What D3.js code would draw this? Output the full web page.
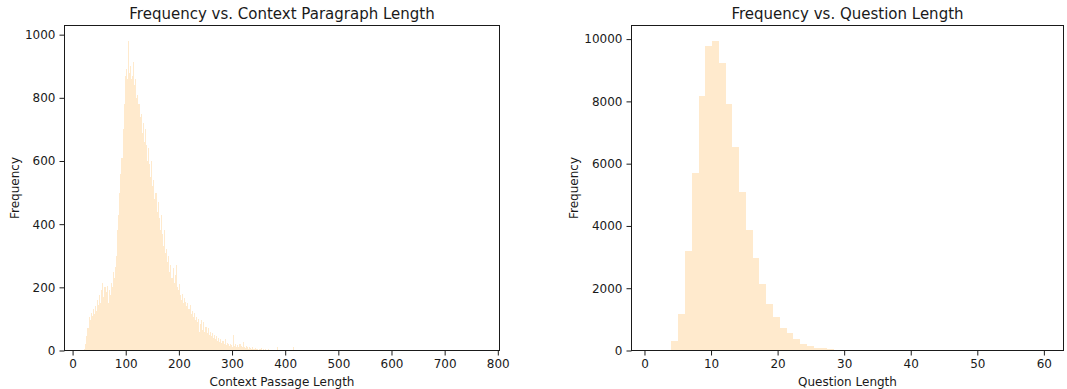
<!DOCTYPE html>
<html><head><meta charset="utf-8">
<script src="https://cdn.jsdelivr.net/npm/d3@7"></script>
<style>
html,body{margin:0;padding:0;background:#fff;}
svg{display:block;font-family:"DejaVu Sans",sans-serif;}
</style></head>
<body>
<svg id="chart" width="1067" height="389"></svg>
<script>
// ---------- Data ----------
// Left: context paragraph length histogram (bin start, bin width 2)
const contextBinStart = 22;
const contextBinWidth = 2;
const contextRange = [22, 766];
const contextFreq = [
  5,20,45,70,105,95,120,110,130,115,140,125,160,145,175,150,190,215,170,200,
  185,205,150,190,175,215,200,250,230,265,300,380,430,500,560,610,700,780,870,890,
  860,980,880,900,860,870,915,840,860,800,810,780,740,750,690,720,660,700,650,600,
  640,590,550,600,520,540,480,500,440,470,420,380,430,370,330,380,310,320,280,300,
  250,270,230,260,215,240,270,200,190,210,175,160,180,150,165,155,140,150,130,145,
  115,125,105,120,95,105,90,100,60,85,95,65,90,60,75,55,70,50,60,45,
  55,40,50,35,45,30,40,28,35,25,30,22,35,18,25,20,15,22,18,12,
  50,15,20,12,18,10,22,15,10,28,12,8,15,10,6,12,8,5,10,6,
  4,8,5,3,6,4,8,3,5,2,4,3,2,4,1,3,2,1,2,3,
  1,12,2,1,3,1,2,1,0,2,1,0,1,2,0,1,10,1,0,1,
  2,0,1,1,0,2,0,1,0,1,1,0,0,3,0,1,0,0,1,0,
  0,1,0,0,0,2,0,0,1,0,0,0,0,1,0,0,0,0,0,1,
  0,0,0,0,0,0,1,0,0,0,0,0,0,0,0,1,0,0,0,0,
  0,0,0,0,0,0,0,0,0,0,0,0,0,0,0,0,0,0,0,0,
  0,0,0,0,0,0,0,0,0,0,0,0,0,0,0,0,0,0,0,0,
  0,0,0,0,0,0,0,0,0,0,0,0,0,0,0,0,0,0,0,0,
  0,0,0,0,0,0,0,0,0,0,0,0,0,0,0,0,0,0,0,0,
  0,0,0,0,0,0,0,0,0,0,0,0,0,0,0,0,0,0,0,0,
  0,0,0,0,0,0,0,0,0,0,0,1
];
const contextXTicks = [0,100,200,300,400,500,600,700,800];
const contextYTicks = [0,200,400,600,800,1000];

// Right: question length histogram (58 bins from 1 to 60)
const questionRange = [1, 60];
const questionFreq = [
  2,5,8,320,1160,3180,5710,8180,9770,9940,
  9220,7930,6550,5080,3880,2970,2130,1490,1090,730,
  547,363,215,140,96,65,45,30,20,14,
  10,7,5,4,3,2,2,1,1,1,
  1,0,1,0,0,1,0,0,0,0,
  0,0,0,0,0,0,1,0
];
const questionXTicks = [0,10,20,30,40,50,60];
const questionYTicks = [0,2000,4000,6000,8000,10000];

const titles = ["Frequency vs. Context Paragraph Length", "Frequency vs. Question Length"];
const xLabels = ["Context Passage Length", "Question Length"];
const yLabel = "Frequency";

// ---------- Drawing ----------
const svg = d3.select("#chart");
const barColor = "#ffeacd";
const textColor = "#1a1a1a";

function panel(opts) {
  const {left, right, top, bottom, range, binStart, binWidth, values, xTicks, yTicks, title, xLabel, yLabelOffset} = opts;
  const pad = (range[1] - range[0]) * 0.05;
  const x = d3.scaleLinear().domain([range[0] - pad, range[1] + pad]).range([left, right]);
  const y = d3.scaleLinear().domain([0, d3.max(values) * 1.05]).range([bottom, top]);
  const g = svg.append("g");

  const bins = values.map((v, i) => ({x0: binStart + i * binWidth, x1: binStart + (i + 1) * binWidth, v}));
  g.append("g").selectAll("rect").data(bins.filter(d => d.v > 0)).join("rect")
    .attr("x", d => x(d.x0))
    .attr("width", d => Math.max(0, x(d.x1) - x(d.x0)))
    .attr("y", d => y(d.v))
    .attr("height", d => y(0) - y(d.v))
    .attr("fill", barColor)
    .attr("shape-rendering", "crispEdges");

  const xAxis = g.append("g").attr("transform", `translate(0,${bottom})`)
    .call(d3.axisBottom(x).tickValues(xTicks).tickSize(5).tickPadding(4).tickFormat(d3.format("d")));
  const yAxis = g.append("g").attr("transform", `translate(${left},0)`)
    .call(d3.axisLeft(y).tickValues(yTicks).tickSize(5).tickPadding(4).tickFormat(d3.format("d")));
  [xAxis, yAxis].forEach(a => {
    a.select(".domain").remove();
    a.selectAll("line").attr("stroke", textColor).attr("stroke-width", 1);
    a.selectAll("text").attr("fill", textColor).style("font-size", "12px").style("font-family", "DejaVu Sans");
  });

  g.append("rect").attr("x", left).attr("y", top).attr("width", right - left).attr("height", bottom - top)
    .attr("fill", "none").attr("stroke", textColor).attr("stroke-width", 1);

  g.append("text").attr("x", (left + right) / 2).attr("y", top - 7)
    .attr("text-anchor", "middle").attr("fill", textColor).style("font-size", "15px").text(title);
  g.append("text").attr("x", (left + right) / 2).attr("y", bottom + 35.5)
    .attr("text-anchor", "middle").attr("fill", textColor).style("font-size", "12px").text(xLabel);
  g.append("text").attr("transform", `translate(${left - yLabelOffset},${(top + bottom) / 2}) rotate(-90)`)
    .attr("text-anchor", "middle").attr("fill", textColor).style("font-size", "12px").text(yLabel);
}

panel({left: 64.5, right: 499.5, top: 25.5, bottom: 350.5, range: contextRange,
  binStart: contextBinStart, binWidth: contextBinWidth, values: contextFreq,
  xTicks: contextXTicks, yTicks: contextYTicks, title: titles[0], xLabel: xLabels[0], yLabelOffset: 46});

const qBinWidth = (questionRange[1] - questionRange[0]) / questionFreq.length;
panel({left: 631.5, right: 1063.5, top: 25.5, bottom: 350.5, range: questionRange,
  binStart: questionRange[0], binWidth: qBinWidth, values: questionFreq,
  xTicks: questionXTicks, yTicks: questionYTicks, title: titles[1], xLabel: xLabels[1], yLabelOffset: 54});
</script>
</body></html>
